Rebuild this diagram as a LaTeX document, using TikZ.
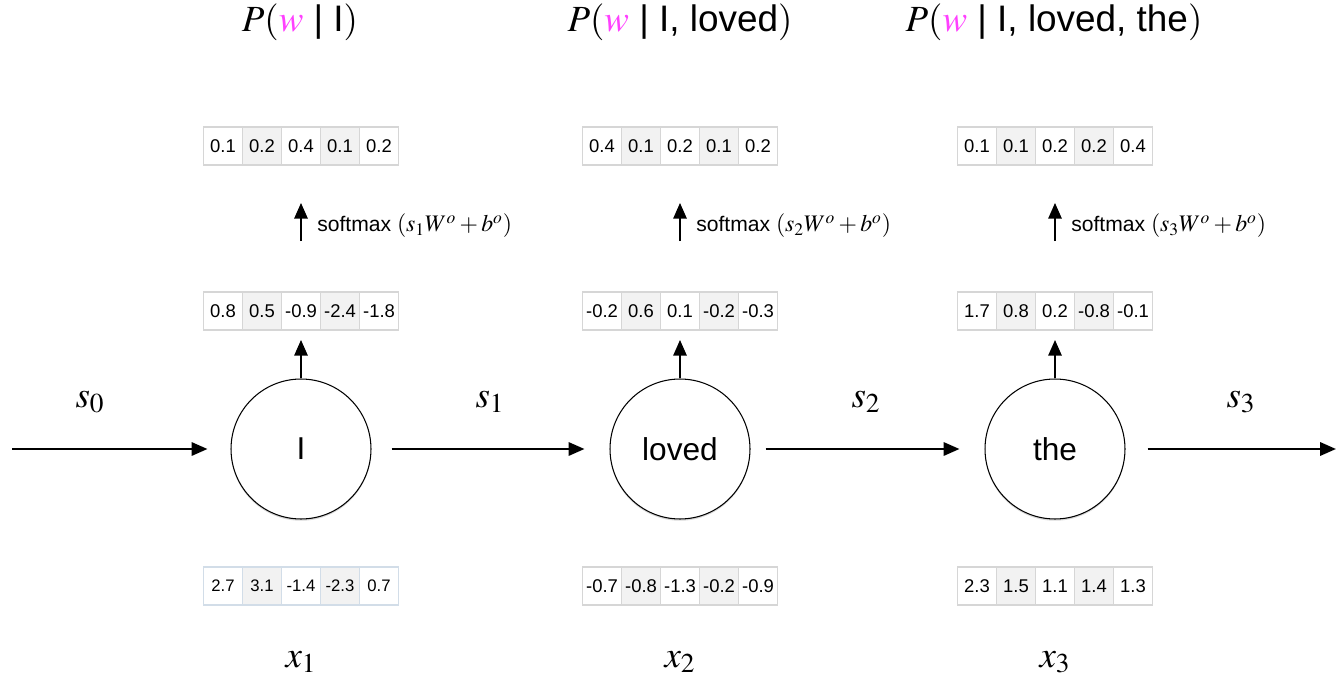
\documentclass[tikz,border=0pt]{standalone}
\usepackage{mathptmx}
\usepackage[no-math]{fontspec}
\setmainfont{Liberation Sans}
\usepackage{xcolor}
\usepackage{tikz}
\usetikzlibrary{arrows.meta,positioning,fit,shadows}
\definecolor{wpink}{HTML}{FF40FF}
\definecolor{cellgray}{HTML}{F2F2F2}
\definecolor{cellline}{HTML}{D6D6D6}
\definecolor{inline}{HTML}{D2DDE8}
\tikzset{
  cell/.style  ={draw=cellline,line width=0.6pt,minimum width=0.78cm,minimum height=0.76cm,
                 inner sep=0pt,font=\fontsize{10.5}{12}\selectfont},
  incell/.style={draw=inline,font=\fontsize{9.5}{11}\selectfont},
  word/.style  ={circle,draw=black,line width=0.6pt,fill=white,minimum size=2.8cm,
                 font=\fontsize{18}{21}\selectfont,
                 drop shadow={shadow xshift=0pt,shadow yshift=-1pt,opacity=0.3}},
  flow/.style  ={-{Triangle[length=9pt,width=7.5pt]},line width=1.4pt,draw=black},
  lbl/.style   ={font=\fontsize{21}{25}\selectfont,inner sep=0pt,anchor=base},
  sm/.style    ={font=\fontsize{12}{14}\selectfont,inner sep=0pt,anchor=base west}
}
% one row of five cells, named #2-1 .. #2-5, and #2 round all of them
\newcommand{\vecrow}[5][]{%
  \foreach \v [count=\i] in {#5} {
    \ifodd\i \def\cfill{white}\else\def\cfill{cellgray}\fi
    \node[cell,#1,fill=\cfill] (#2-\i) at ({#3+(\i-3)*39},#4) {\v};
  }
  \node[fit=(#2-1)(#2-5),inner sep=0pt] (#2) {};
}
\newcommand{\smx}[1]{softmax {\fontsize{13.5}{16}\selectfont$\left(s_{#1}W^{o}+b^{o}\right)$}}

\begin{document}
\begin{tikzpicture}[x=0.02cm,y=-0.02cm]
  \useasboundingbox (0,0) rectangle (1336,679);
  % words
  \node[word] (c1) at (301,449) {I};
  \node[word] (c2) at (680,449) {loved};
  \node[word] (c3) at (1055,449) {the};
  % output distributions
  \vecrow{o1}{301}{146}{0.1,0.2,0.4,0.1,0.2}
  \vecrow{o2}{680}{146}{0.4,0.1,0.2,0.1,0.2}
  \vecrow{o3}{1055}{146}{0.1,0.1,0.2,0.2,0.4}
  % hidden states
  \vecrow{h1}{301}{311}{0.8,0.5,-0.9,-2.4,-1.8}
  \vecrow{h2}{680}{311}{-0.2,0.6,0.1,-0.2,-0.3}
  \vecrow{h3}{1055}{311}{1.7,0.8,0.2,-0.8,-0.1}
  % inputs
  \vecrow[incell]{e1}{301}{586}{2.7,3.1,-1.4,-2.3,0.7}
  \vecrow{e2}{680}{586}{-0.7,-0.8,-1.3,-0.2,-0.9}
  \vecrow{e3}{1055}{586}{2.3,1.5,1.1,1.4,1.3}
  % top labels
  \node[lbl] (p1) at (300,32) {$P(\textcolor{wpink}{w}$ | I$)$};
  \node[lbl] (p2) at (680,32) {$P(\textcolor{wpink}{w}$ | I, loved$)$};
  \node[lbl] (p3) at (1054,32) {$P(\textcolor{wpink}{w}$ | I, loved, the$)$};
  % state labels
  \node[lbl] (l0) at (90,407) {$s_0$};
  \node[lbl] (l1) at (490,407) {$s_1$};
  \node[lbl] (l2) at (866,407) {$s_2$};
  \node[lbl] (l3) at (1241,407) {$s_3$};
  \node[lbl] (x1) at (301,667) {$x_1$};
  \node[lbl] (x2) at (680,667) {$x_2$};
  \node[lbl] (x3) at (1055,667) {$x_3$};
  % softmax
  \node[sm] (m1) at (317,232) {\smx{1}};
  \node[sm] (m2) at (696,232) {\smx{2}};
  \node[sm] (m3) at (1071,232) {\smx{3}};
  % recurrence
  \coordinate (start) at (12,449);
  \coordinate (stop) at (1336,449);
  \draw[flow,shorten >=0.46cm] (start) -- (c1);
  \draw[flow,shorten <=0.4cm,shorten >=0.5cm] (c1) -- (c2);
  \draw[flow,shorten <=0.3cm,shorten >=0.5cm] (c2) -- (c3);
  \draw[flow,shorten <=0.44cm] (c3) -- (stop);
  % up
  \foreach \k in {1,2,3} {
    \draw[flow,shorten >=0.18cm] (c\k) -- (h\k);
    \draw[flow,shorten <=1cm,shorten >=0.74cm] (h\k) -- (o\k);
  }
\end{tikzpicture}
\end{document}
